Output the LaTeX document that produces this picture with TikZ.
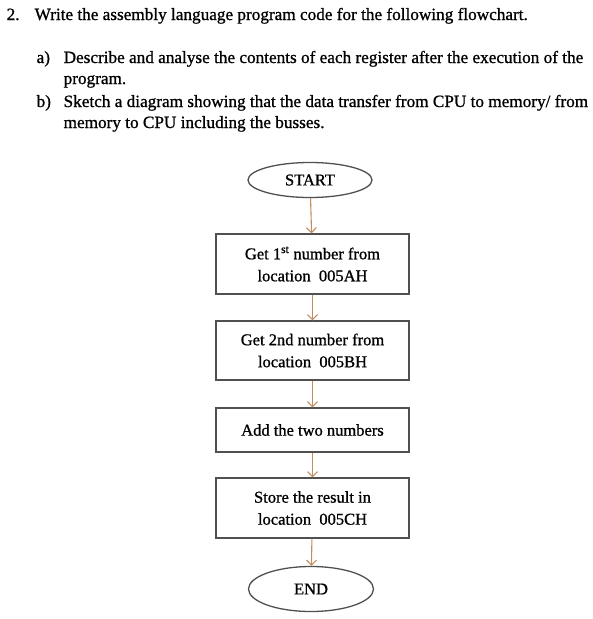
\documentclass[tikz,border=0pt]{standalone}
\usepackage{fontspec}
\setmainfont{Liberation Serif}[FakeBold=0.9]
\usepackage{tikz}
\usetikzlibrary{arrows.meta}
\usetikzlibrary{shapes.geometric}
\usepackage{xcolor}
\definecolor{arrowtan}{HTML}{BF8F62}
\definecolor{boxgray}{HTML}{505050}

\begin{document}
\begin{tikzpicture}
	[x=1pt,y=-1pt,line width=1.3,
	>={Straight Barb[length=5pt,width=10pt]},
	txt/.style = {
		anchor=base west, inner sep=0pt,
		font=\fontsize{17.2}{21}\selectfont
	},
	box/.style = {
		draw=boxgray, fill=white, minimum width=193pt,
		align=center, font=\fontsize{16.5}{22}\selectfont
	},
	term/.style = {
		draw=boxgray, ellipse, inner sep=0pt,
		font=\fontsize{16.5}{18}\selectfont
	},
	flow/.style = {
		->, draw=arrowtan, line width=1.1
	}]
	
	\useasboundingbox (0,0) rectangle (593,619);
	
	%Draw question text
	\node[txt] at (6,20) (qnum) {2.};
	\node[txt] at (34,20) (q) {Write the assembly language program code for the following flowchart.};
	\node[txt] at (36,63) (qa) {a)};
	\node[txt] at (63,63) (qa1) {Describe and analyse the contents of each register after the execution of the};
	\node[txt] at (63,84) (qa2) {program.};
	\node[txt] at (36,107) (qb) {b)};
	\node[txt] at (63,107) (qb1) {Sketch a diagram showing that the data transfer from CPU to memory/ from};
	\node[txt] at (63,128) (qb2) {memory to CPU including the busses.};
	
	%Draw nodes
	\node[term, minimum width=124pt, minimum height=35pt] at (310,180) (start) {START};
	\node[box, minimum height=60pt] at (312.5,264) (get1) {Get 1\textsuperscript{st} number from\\ location\ \ 005AH};
	\node[box, minimum height=59pt] at (312.5,350.5) (get2) {Get 2nd number from\\ location\ \ 005BH};
	\node[box, minimum height=44pt] at (312.5,430) (add) {Add the two numbers};
	\node[box, minimum height=60pt] at (312.5,508) (store) {Store the result in\\ location\ \ 005CH};
	\node[term, minimum width=125pt, minimum height=45pt] at (311,589) (stop) {END};
	
	%Draw arrows
	\draw[flow] (start) -- (get1);
	\draw[flow] (get1) -- (get2);
	\draw[flow] (get2) -- (add);
	\draw[flow] (add) -- (store);
	\draw[flow] (store) -- (stop);
	
\end{tikzpicture}
\end{document}
